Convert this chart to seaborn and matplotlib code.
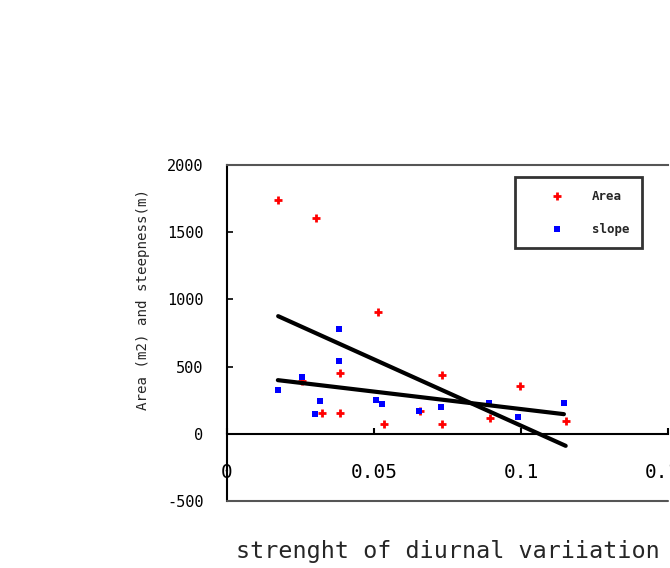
import matplotlib
matplotlib.use("Agg")
import matplotlib.pyplot as plt
import seaborn as sns
import pandas as pd

# Data
area_x = [0.0174, 0.0303, 0.0385, 0.0385, 0.0323, 0.0256, 0.0512, 0.0533,
          0.0732, 0.0732, 0.0658, 0.0996, 0.0896, 0.1152]
area_y = [1740, 1607, 455, 154, 154, 390, 908, 74,
          434, 74, 173, 352, 117, 97]

slope_x = [0.0173, 0.0254, 0.0300, 0.0318, 0.0382, 0.0382, 0.0508, 0.0528,
           0.0652, 0.0728, 0.0891, 0.0991, 0.1146]
slope_y = [327, 422, 147, 246, 781, 543, 248, 225,
           166, 203, 228, 124, 228]

x_ticks = [0, 0.05, 0.1, 0.15]
x_tick_labels = ["0", "0.05", "0.1", "0.15"]
y_ticks = [-500, 0, 500, 1000, 1500, 2000]

x_label = "strenght of diurnal variiation"
y_label = "Area (m2) and steepness(m)"

df_area = pd.DataFrame({"x": area_x, "y": area_y})
df_slope = pd.DataFrame({"x": slope_x, "y": slope_y})

sns.set_style("white")
plt.rcParams["font.family"] = ["DejaVu Sans Mono", "DejaVu Sans"]

fig = plt.figure(figsize=(6.70, 5.68), dpi=100)
ax = fig.add_axes([227 / 670, 67 / 568, 441 / 670, 336 / 568])

# scatter points
ax.scatter(df_area["x"], df_area["y"], marker="+", s=36, linewidths=2.0,
           color="#ff0000", label="Area", zorder=3)
ax.scatter(df_slope["x"], df_slope["y"], marker="s", s=14, linewidths=0,
           color="#0000ff", label="slope", zorder=3)

# linear trend lines
sns.regplot(data=df_area, x="x", y="y", ax=ax, ci=None, scatter=False,
            line_kws=dict(color="black", lw=3.0, zorder=4))
sns.regplot(data=df_slope, x="x", y="y", ax=ax, ci=None, scatter=False,
            line_kws=dict(color="black", lw=3.0, zorder=4))

ax.set_xlim(0, 0.15)
ax.set_ylim(-500, 2000)

# spines: x axis crosses at y=0
ax.spines["bottom"].set_position(("data", 0))
ax.spines["bottom"].set_color("black")
ax.spines["bottom"].set_linewidth(1.5)
ax.spines["left"].set_color("black")
ax.spines["left"].set_linewidth(1.5)
ax.spines["top"].set_color("#555555")
ax.spines["top"].set_linewidth(1.5)
ax.spines["right"].set_visible(False)
ax.axhline(-500, color="#555555", lw=1.5, clip_on=False, zorder=5)

ax.set_xticks(x_ticks)
ax.set_xticklabels(x_tick_labels)
ax.set_yticks(y_ticks)
ax.set_yticklabels([str(v) for v in y_ticks])
ax.tick_params(axis="x", direction="in", length=4, width=1.5, pad=21,
               labelsize=14, colors="black")
ax.tick_params(axis="y", direction="in", length=4, width=1.2, pad=17,
               labelsize=11, colors="black")
ax.tick_params(axis="x", bottom=True)
ax.tick_params(axis="y", left=True)

ax.set_xlabel(x_label, fontsize=16.8)
ax.xaxis.set_label_coords(0.5, -0.115)
ax.set_ylabel(y_label, fontsize=10.2)
ax.yaxis.set_label_coords(-0.175, 0.60)

leg = ax.legend(loc="upper left", bbox_to_anchor=((515 - 227) / 441, (501 - 177) / 336),
                frameon=True, fancybox=False, edgecolor="black",
                prop=dict(size=9, weight="bold"),
                borderpad=1.0, labelspacing=1.6, handlelength=4.7,
                handletextpad=0.45, borderaxespad=0, markerscale=1.0)
leg.get_frame().set_linewidth(2)

fig.savefig("out.png", dpi=100)
